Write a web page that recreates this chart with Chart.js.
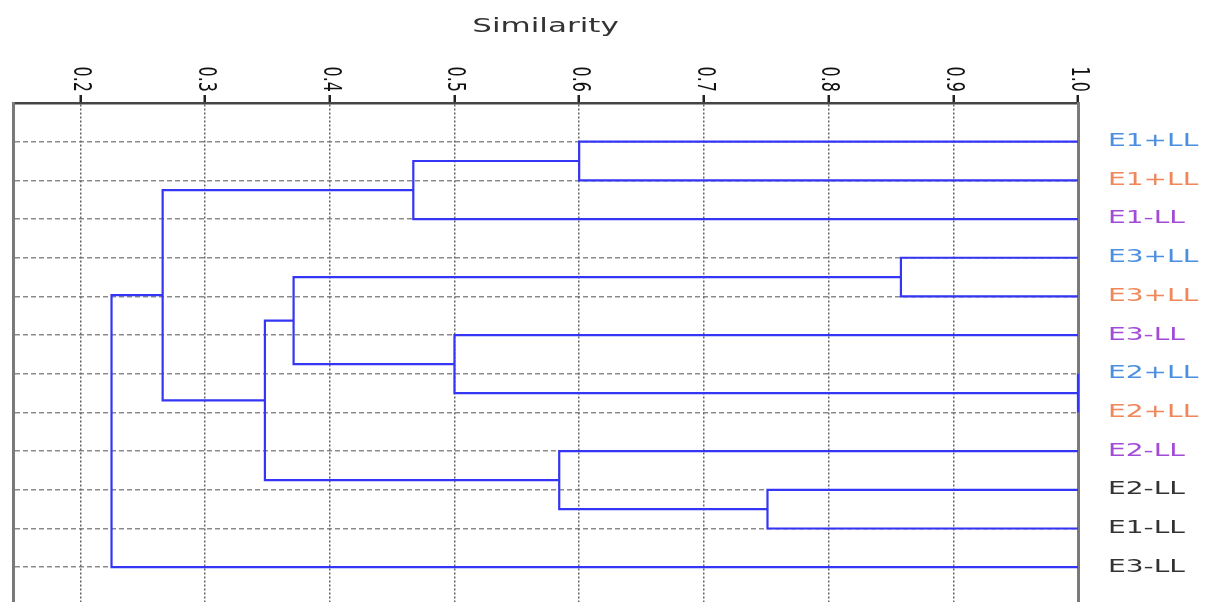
<!DOCTYPE html>
<html>
<head>
<meta charset="utf-8">
<script src="https://cdn.jsdelivr.net/npm/chart.js@4.4.1/dist/chart.umd.min.js"></script>
<style>
  body { margin: 0; background: #fff; }
  #wrap { width: 1206px; height: 602px; }
</style>
</head>
<body>
<div id="wrap"><canvas id="myChart"></canvas></div>
<script>
// leaves, top to bottom
const leafNames = ['E1+LL', 'E1+LL', 'E1-LL', 'E3+LL', 'E3+LL', 'E3-LL', 'E2+LL', 'E2+LL', 'E2-LL', 'E2-LL', 'E1-LL', 'E3-LL'];
const leafColors = ['#4a8fe0', '#f0875a', '#a24bd6', '#4a8fe0', '#f0875a', '#a24bd6', '#4a8fe0', '#f0875a', '#a24bd6', '#333333', '#333333', '#333333'];

// merges (linkage style): child A, child B, similarity. new nodes get ids 12, 13, ...
const mergeA = [0, 12, 3, 6, 5, 14, 9, 8, 17, 13, 21];
const mergeB = [1, 2, 4, 7, 15, 16, 10, 18, 19, 20, 11];
const mergeSim = [0.600, 0.467, 0.858, 1.000, 0.500, 0.371, 0.751, 0.584, 0.348, 0.266, 0.225];

const tickValues = [0.2, 0.3, 0.4, 0.5, 0.6, 0.7, 0.8, 0.9, 1.0];
const tickLabels = ['0.2', '0.3', '0.4', '0.5', '0.6', '0.7', '0.8', '0.9', '1.0'];

function buildDatasets() {
  let nodeX = [];
  let nodeY = [];
  for (let i = 0; i < leafNames.length; i++) {
    nodeX.push(1.0);
    nodeY.push(i);
  }
  let sets = [];
  for (let k = 0; k < mergeA.length; k++) {
    const a = mergeA[k], b = mergeB[k], h = mergeSim[k];
    sets.push({
      data: [
        {x: nodeX[a], y: nodeY[a]},
        {x: h, y: nodeY[a]},
        {x: h, y: nodeY[b]},
        {x: nodeX[b], y: nodeY[b]}
      ],
      showLine: true,
      borderColor: '#3535f5',
      borderWidth: 2.2,
      pointRadius: 0,
      clip: 4
    });
    nodeX.push(h);
    nodeY.push((nodeY[a] + nodeY[b]) / 2);
  }
  return sets;
}

// the picture is stretched sideways, so widen the text the same way
function stretchMethod(scale, name, factor, anchor) {
  if (scale['_st_' + name]) return;
  const orig = scale[name];
  scale[name] = function (...args) {
    const ctx = this.ctx;
    const x0 = anchor(this);
    ctx.save();
    ctx.translate(x0, 0);
    ctx.scale(factor, 1);
    ctx.translate(-x0, 0);
    orig.apply(this, args);
    ctx.restore();
  };
  scale['_st_' + name] = true;
}

const stretchText = {
  id: 'stretchText',
  afterLayout(chart) {
    stretchMethod(chart.scales.y2, 'drawLabels', 1.65, (s) => s.left + s.options.ticks.padding);
    stretchMethod(chart.scales.x, 'drawTitle', 1.55, (s) => (s.left + s.right) / 2);
  }
};

// top tick labels, turned clockwise
const topTickLabels = {
  id: 'topTickLabels',
  afterDraw(chart) {
    const ctx = chart.ctx;
    const x = chart.scales.x;
    ctx.save();
    ctx.font = '16px "DejaVu Sans"';
    ctx.fillStyle = '#111';
    ctx.textAlign = 'right';
    ctx.textBaseline = 'middle';
    for (let i = 0; i < tickValues.length; i++) {
      const px = x.getPixelForValue(tickValues[i]);
      ctx.save();
      ctx.translate(px, x.bottom - 11);
      ctx.rotate(Math.PI / 2);
      ctx.scale(1, 1.5);
      ctx.fillText(tickLabels[i], 0, 0);
      ctx.restore();
    }
    ctx.restore();
  }
};

// vertical axes: no extra label padding at the ends
function noEndPadding(scale) {
  scale.paddingTop = 0;
  scale.paddingBottom = 0;
}

Chart.defaults.font.family = '"DejaVu Sans", sans-serif';

const config = document.getElementById('myChart');

const dendro = new Chart(config, {
  type: 'scatter',
  data: { datasets: buildDatasets() },
  options: {
    responsive: true,
    maintainAspectRatio: false,
    animation: false,
    layout: { padding: 0 },
    plugins: {
      legend: { display: false },
      tooltip: { enabled: false }
    },
    scales: {
      x: {
        type: 'linear',
        position: 'top',
        min: 0.146,
        max: 1.0,
        afterBuildTicks: (scale) => {
          scale.ticks = tickValues.map(v => ({value: v}));
        },
        afterFit: (scale) => { scale.height = 103; },
        ticks: { display: false },
        title: {
          display: true,
          text: 'Similarity',
          color: '#333',
          font: { size: 20 },
          padding: { top: 15, bottom: 0 }
        },
        grid: {
          color: 'rgba(60, 60, 60, 0.8)',
          lineWidth: 1.5,
          tickLength: 8,
          tickColor: '#222',
          tickWidth: 2.5,
          tickBorderDash: [8, 0]
        },
        border: { display: true, color: '#444', width: 2.5, dash: [2, 2] }
      },
      y: {
        type: 'linear',
        position: 'left',
        reverse: true,
        min: -1,
        max: 11.9,
        afterBuildTicks: (scale) => {
          scale.ticks = leafNames.map((n, i) => ({value: i}));
        },
        afterFit: (scale) => { scale.width = 13; noEndPadding(scale); },
        ticks: { display: false },
        grid: {
          color: 'rgba(110, 110, 110, 0.8)',
          lineWidth: 1.5,
          drawTicks: false
        },
        border: { display: true, color: '#7a7a7a', width: 3, dash: [5, 3] }
      },
      y2: {
        type: 'linear',
        position: 'right',
        reverse: true,
        min: -1,
        max: 11.9,
        afterBuildTicks: (scale) => {
          scale.ticks = leafNames.map((n, i) => ({value: i}));
        },
        afterFit: (scale) => { scale.width = 128; noEndPadding(scale); },
        ticks: {
          autoSkip: false,
          padding: 30,
          font: { size: 17 },
          color: (ctx) => leafColors[ctx.index],
          callback: (value) => leafNames[value]
        },
        grid: { display: false, drawTicks: false },
        border: { display: true, color: '#7a7a7a', width: 3 }
      }
    }
  },
  plugins: [stretchText, topTickLabels]
});
</script>
</body>
</html>
